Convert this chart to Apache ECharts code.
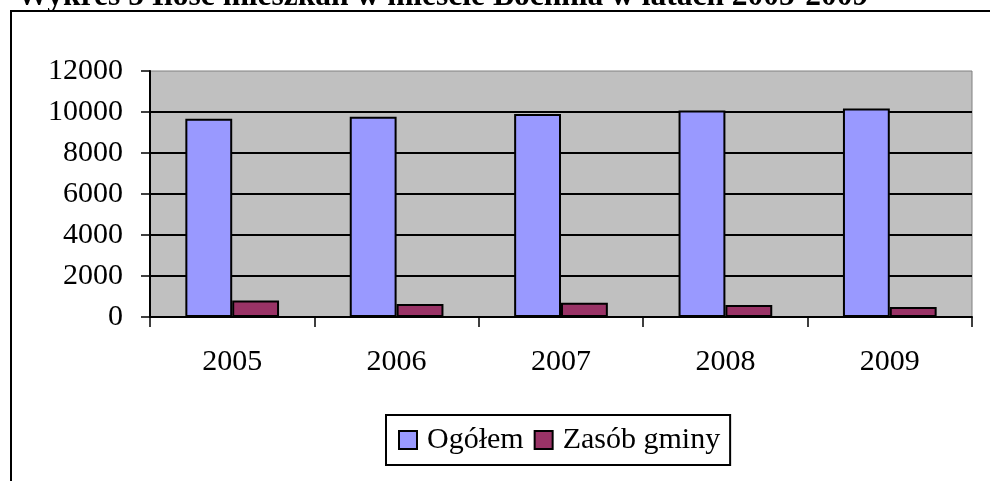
<!DOCTYPE html>
<html>
<head>
<meta charset="utf-8">
<script src="https://cdn.jsdelivr.net/npm/echarts@6/dist/echarts.min.js"></script>
<style>
  html, body { margin: 0; padding: 0; background: #fff; }
  #chart { width: 990px; height: 481px; }
</style>
</head>
<body>
<div id="chart"></div>
<script>
var years = ['2005', '2006', '2007', '2008', '2009'];
var ogolem = [9670, 9770, 9900, 10070, 10170];
var zasobGminy = [800, 640, 700, 590, 490];
var yTicks = { min: 0, max: 12000, interval: 2000 };

var chart = echarts.init(document.getElementById('chart'), null, { renderer: 'canvas' });

var serif = '"Liberation Serif", "Times New Roman", serif';

var option = {
  backgroundColor: '#fff',
  animation: false,
  textStyle: { fontFamily: serif },
  graphic: [{
    type: 'rect',
    shape: { x: 11, y: 11, width: 1000, height: 500 },
    style: { fill: 'none', stroke: '#000', lineWidth: 2 },
    z: 0
  }, {
    type: 'text',
    x: 17,
    y: -3,
    style: {
      text: 'Wykres 5 Ilość mieszkań w mieście Bochnia w latach 2005-2009',
      font: 'bold 31.5px ' + serif,
      fill: '#000',
      verticalAlign: 'middle'
    }
  }],
  grid: {
    left: 150,
    top: 71,
    right: 18,
    bottom: 164,
    show: true,
    backgroundColor: '#c0c0c0',
    borderColor: '#808080',
    borderWidth: 1
  },
  legend: {
    data: ['Ogółem', 'Zasób gminy'],
    left: 386,
    top: 415,
    orient: 'horizontal',
    icon: 'rect',
    itemWidth: 18,
    itemHeight: 18,
    itemGap: 10,
    padding: [10, 10, 10, 12],
    borderColor: '#000',
    borderWidth: 2,
    borderRadius: 0,
    textStyle: { fontFamily: serif, fontSize: 30, color: '#000', padding: [0, 0, 0, 5] }
  },
  xAxis: {
    type: 'category',
    data: years,
    axisLine: { lineStyle: { color: '#000', width: 2 } },
    axisTick: { show: true, length: 10, lineStyle: { color: '#000', width: 1.5 } },
    axisLabel: { fontFamily: serif, fontSize: 30, color: '#000', margin: 30 }
  },
  yAxis: {
    type: 'value',
    min: yTicks.min,
    max: yTicks.max,
    interval: yTicks.interval,
    axisLine: { show: true, lineStyle: { color: '#000', width: 2 } },
    axisTick: { show: true, length: 9, lineStyle: { color: '#000', width: 1.5 } },
    axisLabel: {
      fontFamily: serif, fontSize: 30, color: '#000', margin: 27,
      formatter: function (v) { return String(v); }
    },
    splitLine: { show: true, showMaxLine: false, lineStyle: { color: '#000', width: 2 } }
  },
  series: [{
    name: 'Ogółem',
    type: 'bar',
    data: ogolem,
    barGap: '0%',
    barCategoryGap: '43%',
    itemStyle: { color: '#9999ff', borderColor: '#000', borderWidth: 2 }
  }, {
    name: 'Zasób gminy',
    type: 'bar',
    data: zasobGminy,
    barGap: '0%',
    barCategoryGap: '43%',
    itemStyle: { color: '#993366', borderColor: '#000', borderWidth: 2 }
  }]
};

chart.setOption(option);
</script>
</body>
</html>
